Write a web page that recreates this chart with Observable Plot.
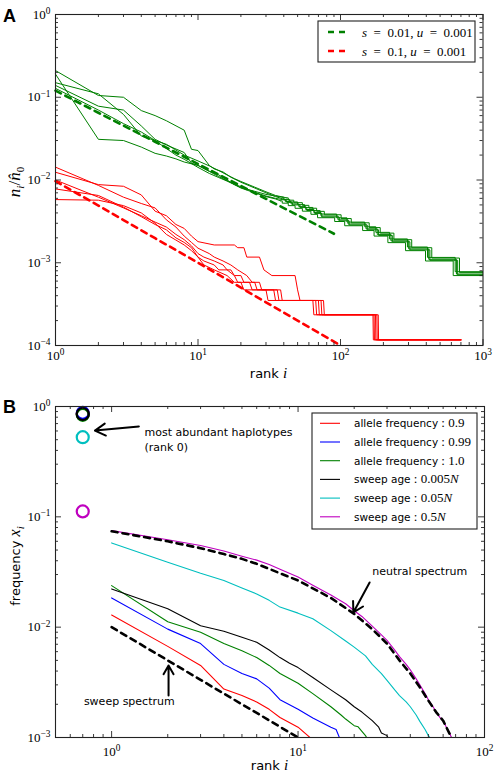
<!DOCTYPE html>
<html>
<head>
<meta charset="utf-8">
<script src="https://cdn.jsdelivr.net/npm/d3@7"></script>
<script src="https://cdn.jsdelivr.net/npm/@observablehq/plot@0.6"></script>
<style>
  body { margin: 0; background: #fff; width: 494px; height: 776px; overflow: hidden; }
  #chart svg { display: block; }
</style>
</head>
<body>
<div id="chart"></div>
<script>
const SANS = "'DejaVu Sans', Verdana, sans-serif";
const SERIF = "'Liberation Serif', 'DejaVu Serif', serif";
const AXIS = "#222";
const GREEN = "#008000", RED = "#ff0000", BLUE = "#0000ff", BLACK = "#000000", CYAN = "#00bfbf", MAGENTA = "#bf00bf";

// ---------- Panel A: rank-frequency of haplotype counts ----------
const aXTicks = [1, 10, 100, 1000];
const aYTicks = [1e-4, 1e-3, 1e-2, 1e-1, 1];

// theory (dashed)
const greenTheoryRank  = [1, 2, 3, 4, 5, 6, 8, 10, 15, 20, 30, 40, 50, 70, 90];
const greenTheoryValue = [0.12, 0.065, 0.0454, 0.0352, 0.0289, 0.0246, 0.0191, 0.0156, 0.0109, 0.00847, 0.00592, 0.00458, 0.00376, 0.0028, 0.00224];
const redTheoryRank  = [1, 2, 3, 5, 10, 20, 30, 50, 100];
const redTheoryValue = [0.0097, 0.0049, 0.00328, 0.00198, 0.001, 0.0005, 0.000333, 0.0002, 0.0001];

// simulations, s = 0.01: head [rank, value] then step tail [rank, value]
const greenSim1Head = [[1,0.21],[2,0.105],[3,0.100],[4,0.069],[5,0.060],[6,0.052],[8,0.040],[9,0.0235],[10,0.0227],[12,0.0150],[13,0.0136],[15,0.0125],[17,0.0108],[20,0.0094],[25,0.0080],[30,0.0070],[35,0.0063],[40,0.00587]];
const greenSim1Tail = [[40,0.00587],[41,0.0055],[45,0.00514],[51,0.00477],[57,0.0044],[65,0.00404],[73,0.00367],[96,0.0033],[113,0.00294],[151,0.00257],[181,0.0022],[226,0.00184],[301,0.00147],[416,0.0011],[651,0.00073],[1000,0.00073]];
const greenSim2Head = [[1,0.19],[2,0.031],[3,0.030],[4,0.025],[5,0.021],[6,0.0195],[7,0.018],[8,0.0165],[10,0.0150],[12,0.0128],[14,0.0115],[16,0.0100],[18,0.0088],[20,0.0080],[25,0.0070],[30,0.0063],[35,0.0059],[38,0.0056]];
const greenSim2Tail = [[38,0.0056],[39,0.00525],[43,0.0049],[48,0.00455],[54,0.0042],[62,0.00385],[69,0.0035],[91,0.00315],[107,0.0028],[143,0.00245],[172,0.0021],[215,0.00175],[286,0.0014],[395,0.00105],[618,0.0007],[1000,0.0007]];
const greenSim3Head = [[1,0.15],[2,0.11],[3,0.062],[4,0.034],[5,0.030],[6,0.027],[7,0.023],[8,0.020],[10,0.0170],[12,0.0148],[14,0.0130],[16,0.0115],[18,0.0104],[20,0.0096],[25,0.0082],[30,0.0072],[35,0.0065],[42,0.00608]];
const greenSim3Tail = [[42,0.00608],[43,0.0057],[47,0.00532],[54,0.00494],[60,0.00456],[68,0.00418],[77,0.0038],[101,0.00342],[119,0.00304],[159,0.00266],[190,0.00228],[237,0.0019],[316,0.00152],[437,0.00114],[684,0.00076],[1000,0.00076]];
const greenSim4Head = [[1,0.139],[2,0.078],[3,0.070],[4,0.045],[5,0.031],[6,0.0265],[8,0.0215],[9,0.0160],[10,0.0150],[12,0.0127],[14,0.0110],[16,0.0098],[18,0.0089],[20,0.0083],[25,0.0071],[30,0.0064],[35,0.0060],[41,0.00571]];
const greenSim4Tail = [[41,0.00571],[42,0.00536],[46,0.005],[52,0.00464],[58,0.00428],[66,0.00393],[74,0.00357],[98,0.00321],[115,0.00286],[154,0.0025],[185,0.00214],[231,0.00179],[307,0.00143],[424,0.00107],[664,0.000714],[1000,0.000714]];
const greenSim5Head = [[1,0.128],[2,0.070],[3,0.048],[4,0.038],[5,0.030],[6,0.024],[7,0.020],[8,0.0178],[10,0.0142],[12,0.0120],[14,0.0107],[16,0.0097],[18,0.0088],[20,0.0081],[25,0.0073],[30,0.0067],[35,0.0064],[39,0.0062]];
const greenSim5Tail = [[39,0.0062],[40,0.00582],[44,0.00543],[50,0.00504],[56,0.00466],[64,0.00427],[72,0.00388],[94,0.00349],[111,0.0031],[148,0.00272],[177,0.00233],[221,0.00194],[295,0.00155],[408,0.00116],[638,0.00078],[1000,0.00078]];

// simulations, s = 0.1: [rank, value]
const redSim1 = [[1,0.0124],[2,0.0088],[3,0.0084],[4,0.0066],[5,0.0042],[6,0.0037],[7,0.0029],[8,0.0026],[9,0.0021],[10,0.0018],[13,0.00164],[18,0.00164],[19,0.00152],[21,0.00152],[22,0.00117],[27,0.00117],[29,0.00082],[33,0.0007],[48,0.0007],[50,0.00047],[52,0.00035],[76,0.00035],[77,0.000235],[184,0.000235],[185,0.000117],[700,0.000117]];
const redSim2 = [[1,0.0143],[2,0.0086],[3,0.0062],[4,0.0052],[5,0.0046],[6,0.0033],[7,0.0027],[8,0.0021],[9,0.00176],[10,0.0015],[12,0.00129],[13,0.00117],[15,0.00105],[17,0.00094],[19,0.00082],[22,0.0007],[24,0.00058],[27,0.00058],[28,0.00047],[36,0.00047],[37,0.00035],[70,0.00035],[71,0.000235],[176,0.000235],[177,0.000117],[700,0.000117]];
const redSim3 = [[1,0.0100],[2,0.0062],[3,0.0046],[4,0.0037],[5,0.0031],[6,0.0027],[7,0.0022],[8,0.0019],[9,0.0016],[10,0.00129],[11,0.00117],[13,0.00105],[15,0.00094],[16,0.00082],[18,0.0007],[20,0.0007],[21,0.00058],[25,0.00058],[26,0.00047],[34,0.00047],[35,0.00035],[67,0.00035],[68,0.000235],[172,0.000235],[173,0.000117],[700,0.000117]];
const redSim4 = [[1,0.0078],[2,0.0065],[3,0.0047],[4,0.0036],[5,0.0029],[6,0.0025],[7,0.0020],[8,0.00176],[9,0.00152],[10,0.00117],[11,0.00105],[13,0.00094],[14,0.00082],[17,0.00082],[18,0.0007],[19,0.00058],[23,0.00058],[24,0.00047],[38,0.00047],[39,0.00035],[73,0.00035],[74,0.000235],[180,0.000235],[181,0.000117],[700,0.000117]];
const redSim5 = [[1,0.0058],[2,0.0057],[3,0.0049],[4,0.0040],[5,0.0030],[6,0.0022],[7,0.00188],[8,0.00164],[9,0.0014],[10,0.00117],[11,0.00094],[13,0.00082],[16,0.0007],[18,0.00058],[20,0.00058],[21,0.00047],[30,0.00047],[31,0.00035],[64,0.00035],[65,0.000235],[169,0.000235],[170,0.000117],[700,0.000117]];

// ---------- Panel B: haplotype frequency spectra after a sweep ----------
const bXTicks = [1, 10, 100];
const bYTicks = [1e-3, 1e-2, 1e-1, 1];
const rankZeroX = 0.7;   // where the rank-0 haplotypes are placed

const bLabels = ["allele frequency : 0.9", "allele frequency : 0.99", "allele frequency : 1.0", "sweep age : 0.005N", "sweep age : 0.05N", "sweep age : 0.5N"];
const bColors = [RED, BLUE, GREEN, BLACK, CYAN, MAGENTA];
const topHaplotype = [0.86, 0.875, 0.84, 0.855, 0.527, 0.112];

const af09Rank  = [1, 2, 3, 4, 5, 6, 7, 8, 10, 12];
const af09Value = [0.0129, 0.0067, 0.0045, 0.00275, 0.0024, 0.0021, 0.0018, 0.00152, 0.00124, 0.00095];
const af099Rank  = [1, 2, 3, 4, 5, 6, 7, 8, 10, 12, 15, 16, 17];
const af099Value = [0.0184, 0.0096, 0.0071, 0.0046, 0.0038, 0.0034, 0.0028, 0.0022, 0.0018, 0.0015, 0.00124, 0.00118, 0.00092];
const af10Rank  = [1, 2, 3, 4, 5, 6, 7, 8, 10, 12, 15, 17, 18, 20, 21, 23, 24];
const af10Value = [0.0238, 0.0112, 0.009, 0.0071, 0.0061, 0.0053, 0.0045, 0.0038, 0.0031, 0.0025, 0.0019, 0.0016, 0.00147, 0.00128, 0.00125, 0.00104, 0.00092];
const age0005Rank  = [1, 2, 3, 4, 5, 6, 7, 8, 9, 10, 12, 15, 18, 20, 22, 25, 27, 28, 30, 31];
const age0005Value = [0.0222, 0.0147, 0.0103, 0.0092, 0.0081, 0.0073, 0.0062, 0.0053, 0.0047, 0.0043, 0.0035, 0.0027, 0.0022, 0.0019, 0.0017, 0.00142, 0.00125, 0.0011, 0.00104, 0.00092];
const age005Rank  = [1, 2, 3, 4, 5, 6, 7, 8, 10, 12, 15, 18, 20, 23, 25, 28, 30, 33, 35, 38, 40, 43, 45, 48, 50, 53];
const age005Value = [0.058, 0.0388, 0.0308, 0.0265, 0.0227, 0.020, 0.0175, 0.0152, 0.0134, 0.0119, 0.0093, 0.0075, 0.0066, 0.0055, 0.0046, 0.0038, 0.0033, 0.0027, 0.0024, 0.0021, 0.0019, 0.0016, 0.0014, 0.00118, 0.00104, 0.00092];
const age05Rank  = [1, 2, 3, 4, 5, 6, 7, 8, 10, 12, 15, 18, 20, 22, 25, 28, 30, 33, 35, 38, 40, 43, 45, 48, 50, 53, 55, 58, 60, 63, 65, 68];
const age05Value = [0.075, 0.062, 0.055, 0.049, 0.044, 0.0405, 0.037, 0.0335, 0.0285, 0.024, 0.0196, 0.0163, 0.0141, 0.0125, 0.0102, 0.0085, 0.0076, 0.0062, 0.0054, 0.0046, 0.0041, 0.0034, 0.0030, 0.0025, 0.0022, 0.0019, 0.0017, 0.0015, 0.00142, 0.0012, 0.0011, 0.0009];

const neutralRank  = [1, 2, 3, 4, 5, 6, 8, 10, 15, 20, 25, 30, 35, 40, 45, 50, 55, 60, 65, 68];
const neutralValue = [0.074, 0.060, 0.052, 0.046, 0.0416, 0.0375, 0.0308, 0.0265, 0.0184, 0.0132, 0.0096, 0.0071, 0.0050, 0.0038, 0.00285, 0.00216, 0.0017, 0.00142, 0.00108, 0.0009];
const sweepRank  = [1, 2, 3, 4, 5, 6, 7, 8, 9, 10];
const sweepValue = [0.01, 0.005, 0.00333, 0.0025, 0.002, 0.00167, 0.00143, 0.00125, 0.00111, 0.001];

// annotation anchors (data coordinates)
const noteText = ["most abundant haplotypes", "(rank 0)", "neutral spectrum", "sweep spectrum"];
const noteX = [1.5, 1.5, 25, 0.71];
const noteY = [0.58, 0.425, 0.0319, 0.00211];
const arrowFrom = [[1.40, 0.66], [24.2, 0.0254], [2.02, 0.0024]];
const arrowTo   = [[0.814, 0.605], [19.8, 0.0136], [2.02, 0.00449]];

// ---------- helpers ----------
const zip = (xs, ys) => xs.map((x, i) => [x, ys[i]]);
function minorTicks(lo, hi) {
  const t = [];
  for (let e = lo; e < hi; e++) for (let m = 2; m <= 9; m++) t.push(m * Math.pow(10, e));
  return t;
}
function frameTicks(xs, ys, fw, fh, len) {
  const o = {stroke: AXIS, strokeWidth: 0.9};
  return [
    Plot.tickX(xs, {x: d => d, insetTop: fh - len, ...o}),
    Plot.tickX(xs, {x: d => d, insetBottom: fh - len, ...o}),
    Plot.tickY(ys, {y: d => d, insetRight: fw - len, ...o}),
    Plot.tickY(ys, {y: d => d, insetLeft: fw - len, ...o})
  ];
}
const expFormat = d => "10^" + Math.round(Math.log10(d));
function superscriptLabels(svg) {
  d3.select(svg).selectAll('g[aria-label$="tick label"] text').each(function () {
    const t = d3.select(this);
    const m = t.text().match(/^10\^(.*)$/);
    if (!m) return;
    t.attr("font-family", SERIF).style("font-family", SERIF).attr("font-size", 13);
    t.text("10");
    t.append("tspan").attr("dy", "-0.5em").attr("font-size", "0.72em").text(m[1].replace("-", "\u2212"));
  });
}
function rich(g, x, y, parts, base = {}) {
  const t = g.append("text").attr("x", x).attr("y", y).attr("text-anchor", "start").style("white-space", "pre");
  for (const k in base) t.attr(k, base[k]);
  for (const p of parts) {
    const s = t.append("tspan").text(p.text);
    for (const k in p) if (k !== "text") s.attr(k, p[k]);
  }
  return t;
}
const dashed = {strokeWidth: 2.6, strokeDasharray: "6,5"};
const axisFont = {fontFamily: SERIF, fontSize: 13};
const EN = "\u2002";

// ---------- draw panel A ----------
const aW = 494, aH = 388, aM = {top: 14, right: 11.5, bottom: 43, left: 55};
const aFW = aW - aM.left - aM.right, aFH = aH - aM.top - aM.bottom;
const greenHeads = [greenSim1Head, greenSim2Head, greenSim3Head, greenSim4Head, greenSim5Head];
const greenTails = [greenSim1Tail, greenSim2Tail, greenSim3Tail, greenSim4Tail, greenSim5Tail];
const redSims = [redSim1, redSim2, redSim3, redSim4, redSim5];

const panelA = Plot.plot({
  width: aW, height: aH,
  marginTop: aM.top, marginRight: aM.right, marginBottom: aM.bottom, marginLeft: aM.left,
  x: {type: "log", domain: [1, 1000]},
  y: {type: "log", domain: [1e-4, 1]},
  style: {background: "white", fontFamily: SERIF, fontSize: "13px", overflow: "visible"},
  marks: [
    ...redSims.map(s => Plot.line(s, {x: d => d[0], y: d => d[1], stroke: RED, strokeWidth: 1})),
    ...greenHeads.map(s => Plot.line(s, {x: d => d[0], y: d => d[1], stroke: GREEN, strokeWidth: 1})),
    ...greenTails.map(s => Plot.line(s, {x: d => d[0], y: d => d[1], stroke: GREEN, strokeWidth: 1, curve: "step-after"})),
    Plot.line(zip(greenTheoryRank, greenTheoryValue), {x: d => d[0], y: d => d[1], stroke: GREEN, ...dashed}),
    Plot.line(zip(redTheoryRank, redTheoryValue), {x: d => d[0], y: d => d[1], stroke: RED, ...dashed}),
    Plot.frame({stroke: AXIS, strokeWidth: 1.1}),
    ...frameTicks(aXTicks, aYTicks, aFW, aFH, 6),
    ...frameTicks(minorTicks(0, 3), minorTicks(-4, 0), aFW, aFH, 3),
    Plot.axisX({ticks: aXTicks, tickSize: 0, tickPadding: 5, tickFormat: expFormat, label: null, ...axisFont}),
    Plot.axisY({ticks: aYTicks, tickSize: 0, tickPadding: 5, tickFormat: expFormat, label: null, ...axisFont})
  ]
});
superscriptLabels(panelA);
{
  const s = d3.select(panelA);
  rich(s, 3, 22, [{text: "A"}], {"font-family": "'Liberation Sans', Arial, sans-serif", "font-weight": "bold", "font-size": 18});
  rich(s, 268.5, 378, [{text: "rank ", "font-family": SANS}, {text: "i", "font-family": SERIF, "font-style": "italic", "font-size": 15}],
    {"text-anchor": "middle", "font-size": 13});
  rich(s, 0, 0, [
    {text: "n", "font-style": "italic"},
    {text: "i", "font-style": "italic", "font-size": 11, dy: 4},
    {text: "/", dy: -4},
    {text: "n\u0302", "font-style": "italic"},
    {text: "0", "font-size": 11, dy: 4}
  ], {transform: "translate(20,182) rotate(-90)", "text-anchor": "middle", "font-family": SERIF, "font-size": 17});
  // legend
  const lg = s.append("g");
  lg.append("rect").attr("x", 318).attr("y", 21).attr("width", 157).attr("height", 41)
    .attr("fill", "white").attr("stroke", AXIS).attr("stroke-width", 1.1);
  const aLegendColors = [GREEN, RED];
  const aLegendS = ["0.01", "0.1"];
  aLegendColors.forEach((c, k) => {
    const y = 32 + k * 19;
    lg.append("line").attr("x1", 328).attr("x2", 345).attr("y1", y).attr("y2", y)
      .attr("stroke", c).attr("stroke-width", 2.6).attr("stroke-dasharray", "6,5");
    rich(lg, 362, y + 4.5, [
      {text: "s", "font-style": "italic"}, {text: EN + "=" + EN + aLegendS[k] + ", "},
      {text: "u", "font-style": "italic"}, {text: EN + "=" + EN + "0.001"}
    ], {"font-family": SERIF, "font-size": 13});
  });
}

// ---------- draw panel B ----------
const bW = 494, bH = 388, bM = {top: 18, right: 10, bottom: 39, left: 55};
const bFW = bW - bM.left - bM.right, bFH = bH - bM.top - bM.bottom;
const bRanks = [af09Rank, af099Rank, af10Rank, age0005Rank, age005Rank, age05Rank];
const bValues = [af09Value, af099Value, af10Value, age0005Value, age005Value, age05Value];
const topRows = topHaplotype.map((v, k) => ({x: rankZeroX, y: v, color: bColors[k]}));
const notes = noteText.map((t, k) => ({text: t, x: noteX[k], y: noteY[k]}));
const arrows = arrowFrom.map((f, k) => ({x1: f[0], y1: f[1], x2: arrowTo[k][0], y2: arrowTo[k][1]}));

const panelB = Plot.plot({
  width: bW, height: bH,
  marginTop: bM.top, marginRight: bM.right, marginBottom: bM.bottom, marginLeft: bM.left,
  x: {type: "log", domain: [0.5, 100]},
  y: {type: "log", domain: [1e-3, 1]},
  style: {background: "white", fontFamily: SERIF, fontSize: "13px", overflow: "visible"},
  marks: [
    ...bRanks.map((r, k) => Plot.line(zip(r, bValues[k]), {x: d => d[0], y: d => d[1], stroke: bColors[k], strokeWidth: 1.1, clip: true})),
    Plot.line(zip(neutralRank, neutralValue), {x: d => d[0], y: d => d[1], stroke: BLACK, ...dashed, clip: true}),
    Plot.line(zip(sweepRank, sweepValue), {x: d => d[0], y: d => d[1], stroke: BLACK, ...dashed, clip: true}),
    Plot.dot(topRows, {x: "x", y: "y", stroke: "color", r: 6, strokeWidth: 2.2, fill: "none"}),
    Plot.text(notes, {x: "x", y: "y", text: "text", textAnchor: "start", fontFamily: SANS, fontSize: 11, fill: "black"}),
    Plot.arrow(arrows, {x1: "x1", y1: "y1", x2: "x2", y2: "y2", stroke: "black", strokeWidth: 2, headLength: 9}),
    Plot.frame({stroke: AXIS, strokeWidth: 1.1}),
    ...frameTicks(bXTicks, bYTicks, bFW, bFH, 6),
    ...frameTicks(minorTicks(-1, 2).filter(v => v >= 0.5), minorTicks(-3, 0), bFW, bFH, 3),
    Plot.axisX({ticks: bXTicks, tickSize: 0, tickPadding: 9, tickFormat: expFormat, label: null, ...axisFont}),
    Plot.axisY({ticks: bYTicks, tickSize: 0, tickPadding: 5, tickFormat: expFormat, label: null, ...axisFont})
  ]
});
superscriptLabels(panelB);
{
  const s = d3.select(panelB);
  rich(s, 3, 25, [{text: "B"}], {"font-family": "'Liberation Sans', Arial, sans-serif", "font-weight": "bold", "font-size": 18});
  rich(s, 269.5, 382, [{text: "rank ", "font-family": SANS}, {text: "i", "font-family": SERIF, "font-style": "italic", "font-size": 15}],
    {"text-anchor": "middle", "font-size": 13});
  rich(s, 0, 0, [
    {text: "frequency ", "font-family": SANS},
    {text: "x", "font-family": SERIF, "font-style": "italic", "font-size": 16},
    {text: "i", "font-family": SERIF, "font-style": "italic", "font-size": 11, dy: 4}
  ], {transform: "translate(20,178) rotate(-90)", "text-anchor": "middle", "font-size": 13});
  // legend
  const lg = s.append("g");
  lg.append("rect").attr("x", 312).attr("y", 25).attr("width", 165).attr("height", 116)
    .attr("fill", "white").attr("stroke", AXIS).attr("stroke-width", 1.1);
  bLabels.forEach((label, k) => {
    const y = 35.3 + k * 18.7;
    lg.append("line").attr("x1", 320).attr("x2", 340).attr("y1", y).attr("y2", y)
      .attr("stroke", bColors[k]).attr("stroke-width", 1.1);
    const [name, value] = label.split(" : ");
    const parts = [{text: name, "font-family": SANS, "font-size": 10.5}, {text: " : ", "font-family": SERIF}];
    if (value.endsWith("N")) {
      parts.push({text: value.slice(0, -1), "font-family": SERIF});
      parts.push({text: "N", "font-family": SERIF, "font-style": "italic"});
    } else {
      parts.push({text: value, "font-family": SERIF});
    }
    rich(lg, 354, y + 4, parts, {"font-size": 13});
  });
}

document.getElementById("chart").append(panelA, panelB);
</script>
</body>
</html>
